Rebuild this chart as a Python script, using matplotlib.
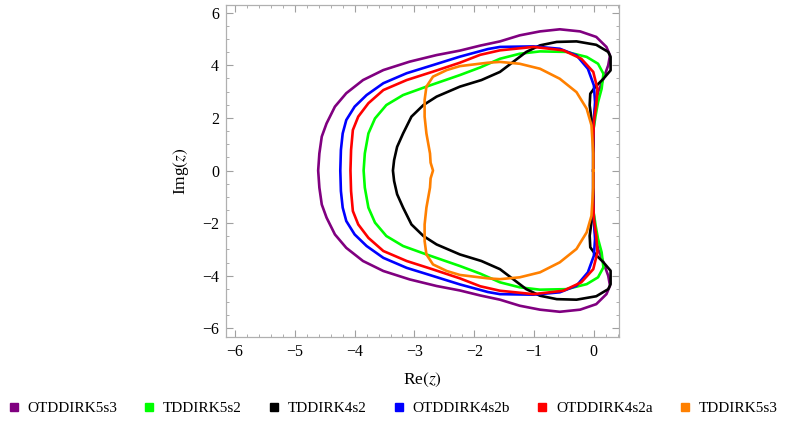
import numpy as np
import matplotlib
matplotlib.use("Agg")
import matplotlib.pyplot as plt
from matplotlib.lines import Line2D
from matplotlib.ticker import MultipleLocator

plt.rcParams['font.family'] = ['Liberation Serif', 'DejaVu Serif']
plt.rcParams['mathtext.fontset'] = 'stix'

# upper half of each stability boundary, mirrored below
labels = ['OTDDIRK5s3', 'TDDIRK5s2', 'TDDIRK4s2', 'OTDDIRK4s2b', 'OTDDIRK4s2a', 'TDDIRK5s3']
colors = ['#800080', '#00ff00', '#000000', '#0000ff', '#ff0000', '#ff8000']

otd5s3_x = [-4.61, -4.59, -4.55, -4.47, -4.33, -4.14, -3.86, -3.52, -3.08, -2.63, -2.24, -1.90,
            -1.57, -1.24, -0.90, -0.57, -0.23, 0.04, 0.21, 0.27, 0.24, 0.16, 0.07, 0.02, 0.00,
            -0.01, -0.01]
otd5s3_y = [0.0, 0.65, 1.29, 1.79, 2.43, 2.94, 3.44, 3.82, 4.14, 4.39, 4.56, 4.75,
            4.91, 5.14, 5.29, 5.37, 5.29, 5.08, 4.70, 4.38, 4.00, 3.49, 2.98, 2.35, 1.84,
            1.2, 0.0]

td5s2_x = [-3.85, -3.83, -3.77, -3.66, -3.47, -3.19, -2.80, -2.24, -1.90, -1.57, -1.24, -0.90,
           -0.46, -0.12, 0.07, 0.16, 0.13, 0.07, 0.03, -0.01, -0.01]
td5s2_y = [0.0, 0.65, 1.41, 1.98, 2.49, 2.87, 3.19, 3.63, 3.92, 4.25, 4.44, 4.53,
           4.51, 4.32, 4.06, 3.68, 3.11, 2.60, 2.10, 1.5, 0.0]

td4s2_x = [-3.36, -3.34, -3.29, -3.19, -3.05, -2.85, -2.63, -2.24, -1.88, -1.57, -1.35, -1.13,
           -0.90, -0.62, -0.29, 0.04, 0.24, 0.28, 0.28, 0.16, 0.02, -0.06, -0.07, -0.04,
           -0.01, -0.01]
td4s2_y = [0.0, 0.40, 0.90, 1.41, 2.05, 2.49, 2.81, 3.19, 3.44, 3.75, 4.13, 4.51,
           4.76, 4.89, 4.91, 4.78, 4.51, 4.32, 3.81, 3.49, 3.17, 2.92, 2.48, 1.97,
           1.5, 0.0]

otd4s2b_x = [-4.24, -4.23, -4.20, -4.14, -4.00, -3.80, -3.52, -3.13, -2.69, -2.24, -1.77, -1.57,
             -1.01, -0.57, -0.29, -0.10, 0.00, 0.02, 0.00, -0.01, -0.01]
otd4s2b_y = [0.0, 0.78, 1.41, 1.92, 2.43, 2.87, 3.32, 3.70, 4.01, 4.33, 4.62, 4.70,
             4.72, 4.63, 4.38, 3.87, 3.24, 2.60, 1.84, 1.2, 0.0]

otd4s2a_x = [-4.07, -4.06, -4.03, -3.94, -3.77, -3.52, -3.13, -2.69, -2.24, -1.90, -1.57,
             -1.01, -0.51, -0.21, -0.01, 0.06, 0.04, 0.00, -0.01, -0.01]
otd4s2a_y = [0.0, 0.78, 1.54, 2.05, 2.56, 3.06, 3.44, 3.76, 4.10, 4.40, 4.57,
             4.70, 4.57, 4.25, 3.75, 3.11, 2.48, 1.84, 1.2, 0.0]

td5s3_x = [-2.69, -2.73, -2.74, -2.80, -2.83, -2.83, -2.80, -2.69, -2.46, -2.24, -1.77, -1.57,
           -1.24, -0.90, -0.57, -0.29, -0.12, -0.04, -0.01, -0.01]
td5s3_y = [0.0, 0.30, 0.65, 1.41, 2.05, 2.68, 3.19, 3.57, 3.82, 3.97, 4.10, 4.13,
           4.06, 3.87, 3.49, 2.98, 2.35, 1.72, 0.65, 0.0]

curves = [(otd5s3_x, otd5s3_y), (td5s2_x, td5s2_y), (td4s2_x, td4s2_y),
          (otd4s2b_x, otd4s2b_y), (otd4s2a_x, otd4s2a_y), (td5s3_x, td5s3_y)]

fig = plt.figure(figsize=(7.85, 4.25), dpi=100)
ax = fig.add_axes([0.288, 0.207, 0.5005, 0.781])

for (xs, ys), c in zip(curves, colors):
    xs = np.array(xs)
    ys = np.array(ys)
    full_x = np.concatenate([xs[::-1], xs[1:]])
    full_y = np.concatenate([-ys[::-1], ys[1:]])
    ax.plot(full_x, full_y, color=c, lw=1.9, solid_joinstyle='round')

ax.set_xlim(-6.15, 0.42)
ax.set_ylim(-6.33, 6.29)
ax.xaxis.set_minor_locator(MultipleLocator(0.2))
ax.yaxis.set_minor_locator(MultipleLocator(0.5))
ax.set_xticks(np.arange(-6, 1, 1))
ax.set_xticklabels(['\u22126', '\u22125', '\u22124', '\u22123', '\u22122', '\u22121', '0'])
ax.set_yticks(np.arange(-6, 7, 2))
ax.set_yticklabels(['\u22126', '\u22124', '\u22122', '0', '2', '4', '6'])
ax.tick_params(which='both', direction='in', top=True, right=True, color='#a0a0a0',
               labelsize=11.5, pad=5)
ax.tick_params(which='major', length=5, width=0.8)
ax.tick_params(which='minor', length=2.5, width=0.6)
for s in ax.spines.values():
    s.set_color('#b0b0b0')
    s.set_linewidth(0.9)

ax.set_xlabel('Re$(z)$', fontsize=12.5, labelpad=8)
ax.set_ylabel('Img$(z)$', fontsize=12.5, labelpad=8)

handles = [Line2D([], [], marker='s', ls='none', color=c, markersize=6) for c in colors]
fig.legend(handles, labels, loc='center', bbox_to_anchor=(0.5, 0.04), ncol=6,
           frameon=False, fontsize=11, handlelength=0.8, handletextpad=0.5,
           columnspacing=1.7)

fig.savefig('out.png', dpi=100)
